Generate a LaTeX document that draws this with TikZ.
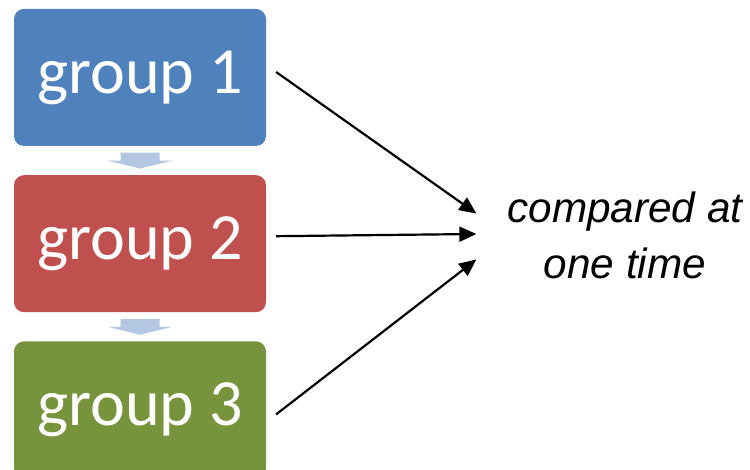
\documentclass[tikz,border=0pt]{standalone}
\usepackage{fontspec}
\usepackage{tikz}
\usetikzlibrary{arrows.meta,positioning,calc}
\newfontfamily\grpfont{Carlito}
\newfontfamily\cmpfont{Liberation Sans}
\definecolor{bleu}{HTML}{4F81BD}
\definecolor{rouge}{HTML}{C0504D}
\definecolor{vert}{HTML}{77933C}
\definecolor{bleuclair}{HTML}{B3C6E2}
\tikzset{
	grp/.style = {rectangle, rounded corners=10pt, inner sep=0pt,
		minimum width=252pt, minimum height=137pt, text=white,
		font=\grpfont\fontsize{66}{66}\selectfont},% boite de groupe
	grp_b/.style = {grp, fill=bleu},% groupe 1, bleu
	grp_r/.style = {grp, fill=rouge},% groupe 2, rouge
	grp_v/.style = {grp, fill=vert},% groupe 3, vert
	cmp_t/.style = {align=center, inner sep=0pt,
		font=\cmpfont\itshape\fontsize{42.3}{56}\selectfont},% texte a droite
	fl_p/.style = {fill=bleuclair}% petite fleche
}
\begin{document}
\begin{tikzpicture}[x=1pt,y=1pt,->,>={Triangle[length=17pt,width=15pt]},
	line width=2.2pt,node distance=27pt]
\useasboundingbox (0,0) rectangle (750,470);
\clip (0,0) rectangle (750,470);
\node [grp_b] (g1) at (140,392.5) {group 1};
\node [grp_r, below = of g1] (g2) {group 2};
\node [grp_v, below = of g2] (g3) {group 3};
\node [cmp_t] (cmp) at (625,234.5) {compared at\\one time};
\foreach \a/\b in {g1/g2,g2/g3}
	\fill [fl_p] ($(\a.south)!.5!(\b.north)$) ++(-19.5,8) -- ++(39,0)
		-- ++(0,-8) -- ++(13,0) -- ++(-32.5,-8) -- ++(-32.5,8) -- ++(13,0) -- cycle;
\draw ([xshift=9pt,yshift=5.5pt]g1.east) -- ([xshift=-30pt,yshift=22pt]cmp.west);
\draw ([xshift=9pt,yshift=7.5pt]g2.east) -- ([xshift=-30pt,yshift=1.5pt]cmp.west);
\draw ([xshift=9pt,yshift=-4.5pt]g3.east) -- ([xshift=-30pt,yshift=-24pt]cmp.west);
\end{tikzpicture}
\end{document}
